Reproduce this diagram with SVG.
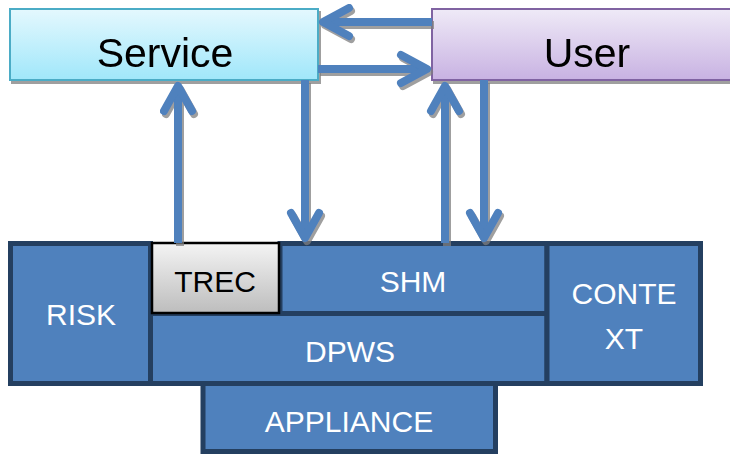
<svg xmlns="http://www.w3.org/2000/svg" width="730" height="454" viewBox="0 0 730 454">
<defs>
<linearGradient id="gService" x1="0" y1="0" x2="0" y2="1"><stop offset="0" stop-color="#E4F8FE"/><stop offset="1" stop-color="#A0E7FA"/></linearGradient>
<linearGradient id="gUser" x1="0" y1="0" x2="0" y2="1"><stop offset="0" stop-color="#EFEAF7"/><stop offset="1" stop-color="#C8B2E2"/></linearGradient>
<linearGradient id="gTrec" x1="0" y1="0" x2="0" y2="1"><stop offset="0" stop-color="#F4F4F4"/><stop offset="1" stop-color="#BDBDBD"/></linearGradient>
<filter id="sh" x="-20%" y="-20%" width="140%" height="140%">
<feDropShadow dx="2" dy="3" stdDeviation="0.6" flood-color="#7F7F7F" flood-opacity="0.75"/>
</filter>
<style>
.blk{fill:#4F81BD;stroke:#243F60;stroke-width:5}
.wt{font-family:"Liberation Sans",Arial,sans-serif;font-size:30px;fill:#FFFFFF;text-anchor:middle}
.bk{font-family:"Liberation Sans",Arial,sans-serif;fill:#000000;text-anchor:middle}
.shaft{fill:none;stroke:#4F81BD;stroke-width:8;stroke-linecap:butt}
.head{fill:none;stroke:#4F81BD;stroke-width:8;stroke-linecap:round;stroke-linejoin:round}
</style>
</defs>
<rect width="730" height="454" fill="#FFFFFF"/>

<g id="service" filter="url(#sh)">
<rect x="10" y="9" width="308" height="71" fill="url(#gService)" stroke="#4BACC6" stroke-width="2"/>
<text class="bk" x="165" y="67" font-size="41">Service</text>
</g>
<g id="user" filter="url(#sh)">
<rect x="432" y="9" width="310" height="71" fill="url(#gUser)" stroke="#8064A2" stroke-width="2"/>
<text class="bk" x="587" y="67" font-size="41">User</text>
</g>

<g id="risk">
<rect class="blk" x="10.5" y="243.5" width="140" height="140"/>
<text class="wt" x="81" y="325">RISK</text>
</g>
<g id="shm">
<rect class="blk" x="280" y="243.5" width="267" height="70"/>
<text class="wt" x="413" y="292">SHM</text>
</g>
<g id="dpws">
<rect class="blk" x="150.5" y="313.5" width="396.5" height="70"/>
<text class="wt" x="350" y="362">DPWS</text>
</g>
<g id="context">
<rect class="blk" x="547" y="243.5" width="153.5" height="140"/>
<text class="wt" x="624" y="304">CONTE</text>
<text class="wt" x="624" y="349">XT</text>
</g>
<g id="appliance">
<rect class="blk" x="203" y="383.5" width="292.5" height="68"/>
<text class="wt" x="349" y="432">APPLIANCE</text>
</g>
<g id="trec">
<rect x="152" y="243" width="127" height="70" fill="url(#gTrec)" stroke="#000000" stroke-width="2.5"/>
<text class="bk" x="215" y="292" font-size="30">TREC</text>
</g>

<g id="connectors" filter="url(#sh)">
<path class="shaft" d="M432 22 H326"/>
<path class="head" d="M349 8 L323 22 L349 36"/>
<path class="shaft" d="M318 69 H424"/>
<path class="head" d="M401 55 L427 69 L401 83"/>
<path class="shaft" d="M178 243 V89"/>
<path class="head" d="M164 111 L178 86 L192 111"/>
<path class="shaft" d="M305 80 V234"/>
<path class="head" d="M291 213 L305 238 L319 213"/>
<path class="shaft" d="M445 243 V89"/>
<path class="head" d="M431 111 L445 86 L459 111"/>
<path class="shaft" d="M484 80 V234"/>
<path class="head" d="M470 213 L484 238 L498 213"/>
</g>
</svg>
